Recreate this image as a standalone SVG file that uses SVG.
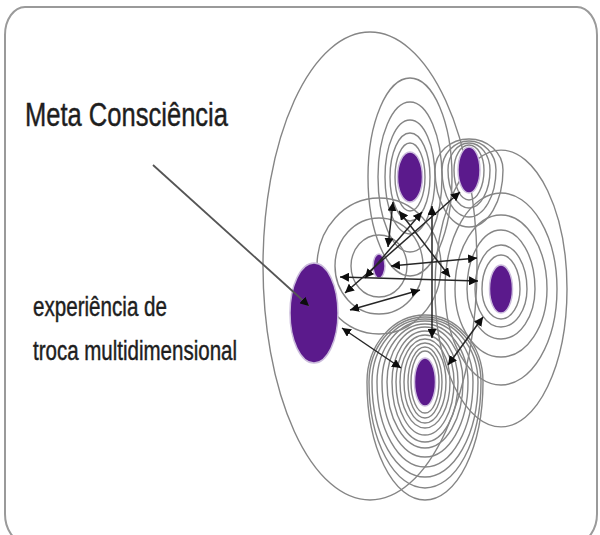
<svg xmlns="http://www.w3.org/2000/svg" width="600" height="535" viewBox="0 0 600 535">
<style>
.ring{fill:none;stroke:#858585;stroke-width:1.4}
.node{fill:#5b1a8c;stroke:#cbbcdc;stroke-width:1.5}
.arr{fill:none;stroke:#262626;stroke-width:1.5;marker-start:url(#ah);marker-end:url(#ah)}
.txt{font-family:"Liberation Sans",Arial,sans-serif;fill:#1e1e1e;stroke:#1e1e1e;stroke-width:0.45}
</style>
<defs>
<marker id="ah" markerUnits="userSpaceOnUse" markerWidth="10" markerHeight="9" refX="9" refY="4.5" orient="auto-start-reverse" viewBox="0 0 10 9">
<path d="M0,0 L9,4.5 L0,9 z" fill="#0d0d0d"/>
</marker>
</defs>
<rect x="5" y="7" width="592" height="535" rx="20" ry="28" fill="#fff" stroke="#9a9a9a" stroke-width="2"/>
<g id="rings">
<ellipse class="ring" cx="370" cy="266" rx="107" ry="234"/>
<g id="rings-top">
<ellipse class="ring" cx="410" cy="177" rx="15" ry="34"/>
<ellipse class="ring" cx="410" cy="177" rx="20" ry="44"/>
<ellipse class="ring" cx="410" cy="177" rx="25" ry="57"/>
<ellipse class="ring" cx="410" cy="177" rx="32" ry="75"/>
<ellipse class="ring" cx="410" cy="177" rx="42" ry="99"/>
</g>
<g id="rings-topright">
<path class="ring" d="M454,170 A15,25 0 0 1 484,170 A15,30 0 0 1 454,170Z"/>
<path class="ring" d="M448,170 A21,27 0 0 1 490,170 A21,38 0 0 1 448,170Z"/>
<path class="ring" d="M442,170 A27,29 0 0 1 496,170 A27,47 0 0 1 442,170Z"/>
<path class="ring" d="M435,170 A34,31 0 0 1 503,170 A34,57 0 0 1 435,170Z"/>
</g>
<g id="rings-small">
<ellipse class="ring" cx="379" cy="266" rx="28" ry="31"/>
<ellipse class="ring" cx="379" cy="266" rx="44" ry="48"/>
<ellipse class="ring" cx="379" cy="266" rx="62" ry="68"/>
</g>
<g id="rings-right">
<path class="ring" d="M482,289 A19,34 0 0 1 520,289 A19,30 0 0 1 482,289Z"/>
<path class="ring" d="M475,289 A26,44 0 0 1 527,289 A26,38 0 0 1 475,289Z"/>
<path class="ring" d="M467,289 A34,59 0 0 1 535,289 A34,50 0 0 1 467,289Z"/>
<path class="ring" d="M455,289 A46,74 0 0 1 547,289 A46,68 0 0 1 455,289Z"/>
<path class="ring" d="M445,289 A56,96 0 0 1 557,289 A56,96 0 0 1 445,289Z"/>
<path class="ring" d="M435,289 A66,139 0 0 1 567,289 A66,138 0 0 1 435,289Z"/>
</g>
<g id="rings-bottom">
<path class="ring" d="M411,382 A14,31 0 0 1 439,382 A14,31 0 0 1 411,382Z"/>
<path class="ring" d="M408,382 A17,35 0 0 1 442,382 A17,36 0 0 1 408,382Z"/>
<path class="ring" d="M404,382 A21,39 0 0 1 446,382 A21,41 0 0 1 404,382Z"/>
<path class="ring" d="M400,382 A25,43 0 0 1 450,382 A25,46 0 0 1 400,382Z"/>
<path class="ring" d="M396,382 A29,47 0 0 1 454,382 A29,53 0 0 1 396,382Z"/>
<path class="ring" d="M392,382 A33,51 0 0 1 458,382 A33,60 0 0 1 392,382Z"/>
<path class="ring" d="M387,382 A38,55 0 0 1 463,382 A38,66 0 0 1 387,382Z"/>
<path class="ring" d="M382,382 A43,58 0 0 1 468,382 A43,75 0 0 1 382,382Z"/>
<path class="ring" d="M377,382 A48,61 0 0 1 473,382 A48,85 0 0 1 377,382Z"/>
<path class="ring" d="M372,382 A53,63 0 0 1 478,382 A53,95 0 0 1 372,382Z"/>
<path class="ring" d="M369,382 A56,65 0 0 1 481,382 A56,106 0 0 1 369,382Z"/>
<path class="ring" d="M367,382 A58,67 0 0 1 483,382 A58,118 0 0 1 367,382Z"/>
</g>
</g>
<g id="nodes">
<ellipse id="node-big" class="node" cx="314" cy="313" rx="24" ry="50"/>
<ellipse id="node-top" class="node" cx="410" cy="177" rx="12.5" ry="25"/>
<ellipse id="node-topright" class="node" cx="469" cy="170" rx="11" ry="23"/>
<ellipse id="node-small" class="node" cx="379" cy="266" rx="6" ry="12"/>
<ellipse id="node-right" class="node" cx="501" cy="289" rx="11.5" ry="24"/>
<ellipse id="node-bottom" class="node" cx="425" cy="382" rx="10.5" ry="24"/>
</g>
<g id="connectors">
<line x1="153" y1="165" x2="309" y2="306" stroke="#555" stroke-width="1.8" marker-end="url(#ah)"/>
<line class="arr" x1="340" y1="277" x2="478" y2="281"/>
<line class="arr" x1="345" y1="293" x2="460" y2="192"/>
<line class="arr" x1="393" y1="202" x2="388" y2="247"/>
<line class="arr" x1="399" y1="211" x2="450" y2="277"/>
<line class="arr" x1="422" y1="212" x2="365" y2="278"/>
<line class="arr" x1="432" y1="206" x2="432" y2="338"/>
<line class="arr" x1="391" y1="266" x2="477" y2="258"/>
<line class="arr" x1="350" y1="310" x2="420" y2="290"/>
<line class="arr" x1="342" y1="328" x2="401" y2="368"/>
<line class="arr" x1="483" y1="317" x2="448" y2="365"/>
</g>
<g id="labels">
<text class="txt" x="25" y="126" font-size="34" textLength="203" lengthAdjust="spacingAndGlyphs">Meta Consciência</text>
<text class="txt" x="33" y="316" font-size="27" textLength="134" lengthAdjust="spacingAndGlyphs">experiência de</text>
<text class="txt" x="33" y="360" font-size="27" textLength="204" lengthAdjust="spacingAndGlyphs">troca multidimensional</text>
</g>
</svg>
